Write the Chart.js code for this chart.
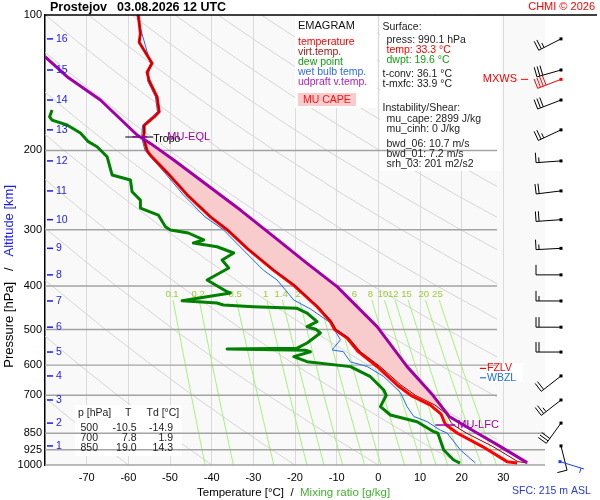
<!DOCTYPE html>
<html>
<head>
<meta charset="utf-8">
<script src="https://cdn.jsdelivr.net/npm/chart.js@4.4.1/dist/chart.umd.min.js"></script>
<style>
  html, body { margin: 0; padding: 0; background: #fff; }
  canvas { display: block; }
</style>
</head>
<body>
<canvas id="emagram" width="600" height="500"></canvas>
<script>
var FONT = '"Liberation Sans", Arial, Helvetica, sans-serif';

// axes
var yTicks = [100, 200, 300, 400, 500, 600, 700, 850, 925, 1000];
var hLines = [200, 300, 400, 500, 600, 700, 850, 925, 1000];

// altitude marks (km) and their pressure
var altKm = [1, 2, 3, 4, 5, 6, 7, 8, 9, 10, 11, 12, 13, 14, 15, 16];
var altP = [907, 807, 717, 634, 561, 494, 432, 378, 330, 285, 246, 211, 180, 154.5, 132.5, 113];

// temperature and virtual temperature
var envP = [100, 110, 115, 128, 134, 140, 152, 164, 168.5, 176, 183, 187, 200, 205, 224, 251, 281, 300, 330, 369,
            398, 445, 480, 500, 522, 560, 604, 664, 700, 736, 770, 780, 805, 815, 850, 910, 983, 990];
var envT = [-57.6, -57.1, -57.4, -54.3, -55.5, -55.0, -53.1, -52.6, -53.8, -56.2, -56.2, -56.4, -55.5, -54.7, -50.7, -45.9, -40.3, -36.3, -31.5, -25.2,
            -20.4, -14.7, -11.5, -10.5, -7.5, -4.8, -0.3, 4.5, 7.8, 12.5, 15.0, 15.3, 15.9, 16.3, 19.0, 25.0, 30.9, 33.3];
var envTv = [-57.6, -57.1, -57.4, -54.3, -55.5, -55.0, -53.1, -52.6, -53.8, -56.2, -56.2, -56.4, -55.5, -54.7, -50.7, -45.8, -40.2, -36.2, -31.4, -25.0,
             -20.2, -14.4, -11.2, -10.1, -7.1, -4.3, 0.4, 5.4, 8.9, 13.6, 16.3, 16.6, 17.5, 18.0, 21.2, 27.5, 33.5, 35.8];

// dew point
var dewP = [162.6, 168.3, 171.2, 175.6, 182.9, 191.2, 196.2, 206.5, 226.7, 232.6, 247, 257.8, 268.5, 278.3, 295.4, 300.5, 305.1, 316.2, 321.1, 327.3,
            338, 350.4, 365, 388, 412, 414.7, 431.4, 436.5, 441, 444.9, 448.6, 459.5, 480.4, 492.6, 500, 508.9, 535.6, 550, 552.4, 556,
            560.1, 574.4, 589.3, 604.5, 636.5, 681.3, 700, 742, 774.3, 801.3, 843.4, 850, 926.3, 974.7, 990];
var dewT = [-78.3, -78.9, -78.3, -74.7, -71.5, -69.6, -67.5, -65.1, -63.9, -59.5, -59.1, -57.1, -57.1, -52.8, -51.1, -49.9, -45.6, -41.9, -44.4, -38.7,
            -34.7, -37.5, -35.9, -41.1, -36.3, -35.5, -47.1, -38.7, -37.2, -30.0, -19.5, -17.1, -14.7, -17.1, -14.9, -13.9, -17.1, -19.5, -36.3, -17.5,
            -16.3, -20.3, -17.1, -6.7, -1.9, 1.3, 1.9, 0.5, 2.9, 9.3, 13.3, 14.3, 15.7, 18.1, 19.6];

// wet bulb temperature
var wbP = [100, 128, 140, 152, 164, 176, 187, 200, 224, 251, 281, 300, 330, 369, 388, 430, 450, 483, 527, 555,
           560, 590, 604, 636, 690, 742, 780, 801, 837, 849, 926, 990];
var wbT = [-58.0, -54.7, -55.4, -53.5, -53.0, -56.6, -56.8, -56.0, -51.3, -46.8, -41.6, -37.2, -32.8, -27.6, -24.3, -20.3, -16.3, -11.5, -9.1, -11.1,
           -8.4, -6.7, -2.7, 1.3, 5.3, 6.9, 8.5, 11.7, 14.9, 16.5, 19.7, 23.3];

// most unstable parcel (virtual temperature)
var parcelP = [123.8, 137.1, 154.5, 184.8, 192.9, 210, 238.6, 271.3, 310.9, 356.3, 401.5, 492.6, 604.5, 700, 780, 850, 900, 988];
var parcelT = [-80.0, -74.7, -66.7, -57.9, -54.7, -49.1, -41.1, -33.1, -25.1, -17.1, -9.9, -0.3, 6.9, 13.1, 17.0, 23.8, 28.4, 35.7];
var capeTop = 184, capeBottom = 781;

// special levels
var tropoP = 186.7, tropoT = -56.4;
var eqlP = 186.5, eqlT = -56.9;
var lfcP = 815, lfcT = 18.0;
var fzlvP = 610, wbzlP = 640;

// winds at altKm levels (deg, kt)
var windDir = [166, 216, 232, 232, 270, 270, 270, 270, 267, 266, 263, 266, 245, 249, 254, 243];
var windSpd = [10, 30, 25, 20, 20, 20, 15, 10, 15, 20, 20, 15, 25, 30, 30, 25];
var mxwsP = 139, mxwsDir = 249, mxwsSpd = 40;
var sfcP = 983, sfcDir = 107, sfcSpd = 5;

// background lines
var mixRatios = [0.1, 0.2, 0.5, 1, 1.4, 2, 3, 4, 6, 8, 10, 12, 15, 20, 25];
var mixP = [430, 500, 600, 700, 850, 1000];
var mixLabelP = 418;
var thetaC = [-80, -60, -40, -20, 0, 20, 40, 60, 80, 100, 120, 140, 160, 180, 200, 220, 240, 260, 280, 300];
var adiabatP = [100, 115, 130, 150, 175, 200, 250, 300, 350, 400, 500, 600, 700, 800, 900, 1000];

// table
var tableP = [500, 700, 850];
var tableT = [-10.5, 7.8, 19.0];
var tableTd = [-14.9, 1.9, 14.3];

function pts(ps, ts) {
  return ps.map(function(p, i) { return {x: ts[i], y: p}; });
}
function mixDew(w, p) {
  var e = w * p / (622 + w);
  var l = Math.log(e / 6.112);
  return 243.5 * l / (17.67 - l);
}

var datasets = [];
mixRatios.forEach(function(w, i) {
  datasets.push({
    data: mixP.map(function(p) { return {x: mixDew(w, p), y: p}; }),
    showLine: true, borderColor: '#a6f27c', borderWidth: 1, pointRadius: 0, order: 100,
    lastBg: i === 0
  });
});
thetaC.forEach(function(t0) {
  var th = t0 + 273.15;
  datasets.push({
    data: adiabatP.map(function(p) { return {x: th * Math.pow(p / 1000, 0.2857) - 273.15, y: p}; }),
    showLine: true, borderColor: '#d6d6d6', borderWidth: 1, pointRadius: 0, order: 101,
    clip: {left: 0, top: 0, right: -48, bottom: 0}
  });
});

// CAPE area: parcel up, virtual temperature down
var capeData = [];
parcelP.forEach(function(p, i) { if (p >= capeTop && p <= capeBottom) capeData.push({x: parcelT[i], y: p}); });
capeData.reverse();
for (var k = 0; k < envP.length; k++) {
  if (envP[k] >= capeTop && envP[k] <= capeBottom) capeData.push({x: envTv[k], y: envP[k]});
}
capeData.reverse();

datasets.push({ data: capeData, showLine: true, fill: 'shape', backgroundColor: '#f8cccc', borderWidth: 0, pointRadius: 0, order: 6 });
datasets.push({ data: pts(dewP, dewT), showLine: true, borderColor: '#008000', borderWidth: 3, pointRadius: 0, borderJoinStyle: 'round', order: 5 });
datasets.push({ data: pts(wbP, wbT), showLine: true, borderColor: '#1e6cf0', borderWidth: 1, pointRadius: 0, order: 4 });
datasets.push({ data: pts(envP, envT), showLine: true, borderColor: '#ff0000', borderWidth: 3, pointRadius: 0, borderJoinStyle: 'round', order: 3 });
datasets.push({ data: pts(envP, envTv), showLine: true, borderColor: '#990000', borderWidth: 1, pointRadius: 0, order: 2 });
datasets.push({ data: pts(parcelP, parcelT), showLine: true, borderColor: '#a000a8', borderWidth: 3, pointRadius: 0, borderJoinStyle: 'round', order: 1 });

function txt(c, s, x, y, color, font, align) {
  c.fillStyle = color;
  c.font = font;
  c.textAlign = align || 'left';
  c.textBaseline = 'middle';
  c.fillText(s, x, y);
}
function line(c, x1, y1, x2, y2, color, w) {
  c.strokeStyle = color;
  c.lineWidth = w;
  c.beginPath();
  c.moveTo(x1, y1);
  c.lineTo(x2, y2);
  c.stroke();
}
function drawBarb(c, x, y, dir, spd, color) {
  var r = dir * Math.PI / 180, ux = Math.sin(r), uy = -Math.cos(r);
  var px = -uy, py = ux, L = 25, pos = L, rest = spd;
  c.strokeStyle = color;
  c.fillStyle = color;
  c.lineWidth = 1;
  c.beginPath();
  c.moveTo(x, y);
  c.lineTo(x + ux * L, y + uy * L);
  while (rest >= 10) {
    c.moveTo(x + ux * pos, y + uy * pos);
    c.lineTo(x + ux * pos + px * 10, y + uy * pos + py * 10);
    pos -= 3;
    rest -= 10;
  }
  if (rest >= 5) {
    if (pos === L) pos -= 3;
    c.moveTo(x + ux * pos, y + uy * pos);
    c.lineTo(x + ux * pos + px * 5, y + uy * pos + py * 5);
  }
  c.stroke();
  c.fillRect(x - 1.5, y - 1.5, 3, 3);
}

var emagramPlugin = {
  id: 'emagram',
  beforeDraw: function(chart) {
    var c = chart.ctx, a = chart.chartArea;
    c.save();
    c.fillStyle = '#fff';
    c.fillRect(0, 0, chart.width, chart.height);
    c.fillStyle = '#f9f9f9';
    c.fillRect(a.left, a.top, a.right - a.left, a.bottom - a.top);
    c.restore();
  },
  afterDatasetDraw: function(chart, args) {
    if (!chart.data.datasets[args.index].lastBg) return;
    var c = chart.ctx, xs = chart.scales.x, ys = chart.scales.y, a = chart.chartArea;
    c.save();
    c.fillStyle = '#fff';
    c.fillRect(295, 16, 82, 92);
    c.fillRect(380, 16, 121, 155);
    c.fillRect(75, 405, 107, 51);
    c.fillRect(480, 363, 43, 19);
    hLines.forEach(function(p) {
      var y = ys.getPixelForValue(p);
      line(c, a.left, y, p >= 850 ? a.right : 497, y, '#a3a3a3', 1.4);
    });
    mixRatios.forEach(function(w) {
      txt(c, String(w), xs.getPixelForValue(mixDew(w, mixLabelP)), ys.getPixelForValue(mixLabelP),
          '#9acd32', '9.5px ' + FONT, 'center');
    });
    c.restore();
  },
  afterDatasetsDraw: function(chart) {
    var c = chart.ctx, xs = chart.scales.x, ys = chart.scales.y, a = chart.chartArea;
    var f10 = '10.5px ' + FONT;
    c.save();

    // altitude marks
    altKm.forEach(function(km, i) {
      var y = ys.getPixelForValue(altP[i]);
      line(c, a.left + 2, y, a.left + 8, y, '#1a1af0', 1.5);
      txt(c, String(km), a.left + 11, y, '#1a1af0', f10);
    });

    // tropopause, EQL, LFC, freezing levels
    var yt = ys.getPixelForValue(tropoP), xt = xs.getPixelForValue(tropoT);
    line(c, xt - 18, yt, xt + 10, yt, '#000', 1);
    var ye = ys.getPixelForValue(eqlP), xe = xs.getPixelForValue(eqlT);
    line(c, xe - 9, ye, xe + 6, ye, '#a000a8', 1.5);
    txt(c, 'Tropo', xt + 10, yt + 2, '#000', f10);
    txt(c, 'MU-EQL', xt + 24, ye, '#a000a8', '11px ' + FONT);
    var yl = ys.getPixelForValue(lfcP), xl = xs.getPixelForValue(lfcT);
    line(c, xl - 18, yl, xl + 2, yl, '#a000a8', 1.5);
    txt(c, 'MU-LFC', xl + 4, yl, '#a000a8', '11px ' + FONT);
    var yf = ys.getPixelForValue(fzlvP), yw = ys.getPixelForValue(wbzlP);
    line(c, 480, yf, 486, yf, '#ff0000', 1.2);
    txt(c, 'FZLV', 487, yf, '#ff0000', f10);
    line(c, 480, yw, 486, yw, '#1e6cf0', 1.2);
    txt(c, 'WBZL', 487, yw, '#1e6cf0', f10);

    // legend box
    txt(c, 'EMAGRAM', 298, 26, '#111', '11px ' + FONT);
    txt(c, 'temperature', 298, 42, '#ff0000', f10);
    txt(c, 'virt.temp.', 298, 52, '#a01818', f10);
    txt(c, 'dew point', 298, 62, '#10a010', f10);
    txt(c, 'wet bulb temp.', 298, 72, '#2d6cf0', f10);
    txt(c, 'udpraft v.temp.', 298, 82, '#b020c0', f10);
    c.fillStyle = '#f8cccc';
    c.fillRect(298, 93, 58, 13);
    txt(c, 'MU CAPE', 303, 100, '#ff1010', f10);

    // surface / instability box
    var dark = '#222';
    txt(c, 'Surface:', 382.5, 27, dark, f10);
    txt(c, 'press: 990.1 hPa', 386.5, 40, dark, f10);
    txt(c, 'temp: 33.3 °C', 386.5, 50, '#ff0000', f10);
    txt(c, 'dwpt: 19.6 °C', 386.5, 60, '#10a010', f10);
    txt(c, 't-conv: 36.1 °C', 382.5, 74, dark, f10);
    txt(c, 't-mxfc: 33.9 °C', 382.5, 84, dark, f10);
    txt(c, 'Instability/Shear:', 382.5, 108, dark, f10);
    txt(c, 'mu_cape: 2899 J/kg', 386.5, 119, dark, f10);
    txt(c, 'mu_cinh: 0 J/kg', 386.5, 129, dark, f10);
    txt(c, 'bwd_06: 10.7 m/s', 386.5, 144, dark, f10);
    txt(c, 'bwd_01: 7.2 m/s', 386.5, 154.5, dark, f10);
    txt(c, 'srh_03: 201 m2/s2', 386.5, 164.5, dark, f10);

    // table
    txt(c, 'p [hPa]', 78, 413.5, dark, f10);
    txt(c, 'T', 125, 413.5, dark, f10);
    txt(c, 'Td [°C]', 146.5, 413.5, dark, f10);
    tableP.forEach(function(p, i) {
      var y = 428 + i * 10.3;
      txt(c, String(p), 98, y, dark, f10, 'right');
      txt(c, tableT[i].toFixed(1), 136.5, y, dark, f10, 'right');
      txt(c, tableTd[i].toFixed(1), 173, y, dark, f10, 'right');
    });

    // winds
    altKm.forEach(function(km, i) {
      drawBarb(c, 561, ys.getPixelForValue(altP[i]), windDir[i], windSpd[i], '#000');
    });
    var ym = ys.getPixelForValue(mxwsP);
    drawBarb(c, 561, ym, mxwsDir, mxwsSpd, '#ff0000');
    txt(c, 'MXWS', 517, ym, '#ff0000', '11px ' + FONT, 'right');
    line(c, 521, ym, 528, ym, '#ff0000', 1);
    drawBarb(c, 560, ys.getPixelForValue(sfcP), sfcDir, sfcSpd, '#1a3cff');

    // header
    line(c, a.left, a.top, 597, a.top, '#000', 1.5);
    txt(c, 'Prostejov', 50, 8, '#000', 'bold 12.5px ' + FONT);
    txt(c, '03.08.2026 12 UTC', 117, 8, '#000', 'bold 12.5px ' + FONT);
    txt(c, 'CHMI © 2026', 595, 7, '#ff0000', '11px ' + FONT, 'right');

    // axis titles
    var f11 = '11.5px ' + FONT;
    c.font = f11;
    var t1 = 'Temperature [°C]  /  ';
    txt(c, t1, 197, 493, '#000', f11);
    txt(c, 'Mixing ratio [g/kg]', 197 + c.measureText(t1).width, 493, '#44b030', f11);
    txt(c, 'SFC: 215 m ASL', 512, 491, '#2a3ad0', f10);

    var f12 = '13px ' + FONT;
    c.font = f12;
    var s1 = 'Pressure [hPa]   /   ', s2 = 'Altitude [km]';
    var w1 = c.measureText(s1).width, w2 = c.measureText(s2).width;
    c.translate(9, 185 + w1 + w2);
    c.rotate(-Math.PI / 2);
    txt(c, s1, 0, 0, '#000', f12);
    txt(c, s2, w1, 0, '#1a1af0', f12);
    c.restore();
  }
};

new Chart(document.getElementById('emagram'), {
  type: 'scatter',
  data: { datasets: datasets },
  options: {
    responsive: false,
    animation: false,
    devicePixelRatio: 1,
    layout: { padding: { top: 15, right: 55, left: 0, bottom: 0 } },
    plugins: { legend: { display: false }, tooltip: { enabled: false } },
    elements: { line: { tension: 0 }, point: { radius: 0 } },
    scales: {
      x: {
        type: 'linear', min: -80, max: 40,
        afterFit: function(s) { s.height = 35; },
        ticks: {
          stepSize: 10, autoSkip: false, maxRotation: 0, padding: 6, color: '#000',
          font: { size: 11, family: FONT },
          callback: function(v) { return (v <= -80 || v >= 40) ? '' : v; }
        },
        grid: {
          drawTicks: false, lineWidth: 1,
          color: function(ctx) {
            var v = ctx.tick ? ctx.tick.value : 0;
            return (v <= -80 || v >= 40) ? 'rgba(0,0,0,0)' : '#dadada';
          }
        },
        border: { display: false }
      },
      y: {
        type: 'logarithmic', min: 100, max: 1000, reverse: true,
        afterFit: function(s) { s.width = 45; },
        afterBuildTicks: function(s) { s.ticks = yTicks.map(function(v) { return {value: v}; }); },
        ticks: {
          autoSkip: false, padding: 3, color: '#000',
          font: { size: 11, family: FONT },
          callback: function(v) { return String(v); }
        },
        grid: { display: false, drawTicks: false },
        border: { display: true, color: '#000', width: 1.5 }
      }
    }
  },
  plugins: [emagramPlugin]
});
</script>
</body>
</html>
